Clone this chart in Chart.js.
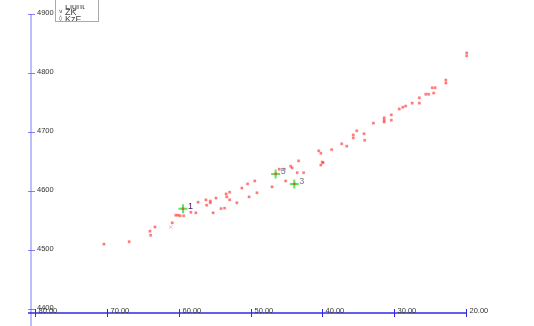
<!DOCTYPE html>
<html>
<head>
<meta charset="utf-8">
<script src="https://cdn.jsdelivr.net/npm/chart.js@4"></script>
<style>
  html, body { margin: 0; padding: 0; background: #fff; }
  #wrap { position: relative; width: 534px; height: 326px; }
</style>
</head>
<body>
<div id="wrap"><canvas id="myChart"></canvas></div>
<script>
// KzF (red squares)
var kzfX = [70.4, 66.9, 64.0, 63.9, 63.3, 60.9, 60.4, 60.1, 59.8, 59.3,
  58.3, 57.6, 57.3, 56.2, 56.1, 55.6, 55.6, 55.2, 54.8, 54.1,
  53.6, 53.4, 53.3, 52.9, 52.9, 51.9, 51.2, 50.4, 50.2, 49.4,
  49.1, 47.0, 46.0, 45.3, 45.1, 44.4, 44.2, 43.5, 43.3, 42.6,
  40.5, 40.2, 40.0, 39.9, 40.2, 38.7, 37.3, 36.6, 35.7, 35.7,
  35.2, 34.2, 34.1, 32.9, 31.4, 31.4, 31.4, 30.4, 30.4, 29.3,
  28.8, 28.4, 27.5, 26.5, 26.5, 25.6, 25.2, 24.7, 24.3, 24.5,
  22.8, 22.8, 19.9, 19.9, 59.4, 46.5, 43.9];
var kzfY = [4510, 4514, 4532, 4525, 4539, 4546, 4559, 4559, 4558, 4558,
  4564, 4563, 4581, 4585, 4576, 4583, 4580, 4563, 4588, 4570,
  4571, 4595, 4590, 4598, 4585, 4580, 4605, 4612, 4590, 4617,
  4597, 4607, 4637, 4637, 4617, 4642, 4639, 4631, 4651, 4631,
  4668, 4664, 4649, 4648, 4644, 4670, 4680, 4676, 4695, 4690,
  4702, 4697, 4686, 4715, 4724, 4720, 4717, 4729, 4720, 4739,
  4742, 4744, 4749, 4758, 4749, 4764, 4764, 4775, 4775, 4766,
  4788, 4783, 4834, 4829, 4570, 4629, 4612];

// ZK (green crosses, numbered)
var zkX = [59.4, 46.5, 43.9];
var zkY = [4570, 4629, 4612];
var zkLabels = ['1', '5', '3'];

// Light (faint x)
var lightX = [61.1];
var lightY = [4539];

var xTicks = [80, 70, 60, 50, 40, 30, 20];
var xTickLabels = ['80.00', '70.00', '60.00', '50.00', '40.00', '30.00', '20.00'];
var yTicks = [4400, 4500, 4600, 4700, 4800, 4900];
var yTickLabels = ['4400', '4500', '4600', '4700', '4800', '4900'];

var legendLabels = ['Light', 'ZK', 'KzF'];
var legendMarks = ['', 'v', '\u25CA'];

function toPoints(xs, ys) {
  return xs.map((x, i) => ({ x: x, y: ys[i] }));
}

var axesPlugin = {
  id: 'axesPlugin',
  afterDraw: function (chart) {
    var ctx = chart.ctx;
    var sx = chart.scales.x, sy = chart.scales.y;
    var area = chart.chartArea;
    var axisX = area.left - 4;
    var axisY = area.bottom + 4;
    ctx.save();

    // vertical axis
    ctx.strokeStyle = 'rgba(120,120,245,0.65)';
    ctx.lineWidth = 1.5;
    ctx.beginPath();
    ctx.moveTo(axisX, sy.getPixelForValue(yTicks[yTicks.length - 1]));
    ctx.lineTo(axisX, chart.height);
    ctx.stroke();

    ctx.font = '7.5px "Liberation Sans", Arial, sans-serif';
    ctx.fillStyle = '#333';
    ctx.textAlign = 'left';
    ctx.textBaseline = 'middle';
    ctx.lineWidth = 1;
    ctx.strokeStyle = 'rgba(100,100,240,0.8)';
    yTicks.forEach(function (v, i) {
      var py = Math.round(sy.getPixelForValue(v)) + 0.5;
      ctx.beginPath();
      ctx.moveTo(axisX - 3, py);
      ctx.lineTo(axisX + 4, py);
      ctx.stroke();
      ctx.fillText(yTickLabels[i], area.left + 2, py - 1.5);
    });

    // horizontal axis
    ctx.textBaseline = 'alphabetic';
    ctx.strokeStyle = '#2b2be6';
    ctx.lineWidth = 1.3;
    ctx.beginPath();
    ctx.moveTo(axisX - 3, axisY);
    ctx.lineTo(sx.getPixelForValue(xTicks[xTicks.length - 1]), axisY);
    ctx.stroke();
    ctx.lineWidth = 1;
    xTicks.forEach(function (v, i) {
      var px = Math.round(sx.getPixelForValue(v)) + 0.5;
      ctx.beginPath();
      ctx.moveTo(px, axisY - 4);
      ctx.lineTo(px, axisY + 4);
      ctx.stroke();
      ctx.fillText(xTickLabels[i], px + 3, axisY);
    });

    // labels next to the ZK markers
    var labelColors = ['#4a1060', '#6c7f9a', '#777'];
    ctx.font = '9px "Liberation Sans", Arial, sans-serif';
    ctx.textBaseline = 'middle';
    zkLabels.forEach(function (t, i) {
      ctx.fillStyle = labelColors[i];
      ctx.fillText(t, sx.getPixelForValue(zkX[i]) + 5, sy.getPixelForValue(zkY[i]) - 2);
    });

    // legend box
    ctx.fillStyle = '#fff';
    ctx.fillRect(55, 0, 44, 22);
    ctx.strokeStyle = '#aaa';
    ctx.lineWidth = 1;
    ctx.strokeRect(55.5, -1, 43, 22.5);
    ctx.save();
    ctx.beginPath();
    ctx.rect(56, 5, 42, 16);
    ctx.clip();
    ctx.textBaseline = 'alphabetic';
    ctx.fillStyle = '#444';
    var baseY = [8.5, 15, 21.5];
    legendLabels.forEach(function (t, i) {
      ctx.font = '9px "Liberation Sans", Arial, sans-serif';
      ctx.fillText(t, 65, baseY[i]);
      ctx.font = '6px "DejaVu Sans", sans-serif';
      ctx.fillText(legendMarks[i], 59, baseY[i] - 2);
    });
    ctx.restore();

    ctx.restore();
  }
};

var ctx = document.getElementById('myChart');
var myChart = new Chart(ctx, {
  type: 'scatter',
  data: {
    datasets: [{
      label: 'KzF',
      data: toPoints(kzfX, kzfY),
      pointStyle: 'rect',
      pointRadius: 1.6,
      backgroundColor: 'rgba(255,20,20,0.55)',
      borderColor: 'rgba(255,90,90,0.3)',
      borderWidth: 1,
      clip: false
    }, {
      label: 'ZK',
      data: toPoints(zkX, zkY),
      pointStyle: 'cross',
      pointRadius: 4.5,
      borderColor: 'rgba(70,230,70,0.9)',
      borderWidth: 2,
      clip: false
    }, {
      label: 'Light',
      data: toPoints(lightX, lightY),
      pointStyle: 'crossRot',
      pointRadius: 2.5,
      borderColor: 'rgba(255,80,80,0.4)',
      borderWidth: 1,
      clip: false
    }]
  },
  plugins: [axesPlugin],
  options: {
    animation: false,
    responsive: true,
    maintainAspectRatio: false,
    devicePixelRatio: 1,
    layout: {
      padding: { left: 35, right: 68, top: 14, bottom: 17 }
    },
    plugins: {
      legend: { display: false },
      tooltip: { enabled: false }
    },
    scales: {
      x: {
        type: 'linear',
        reverse: true,
        min: 20,
        max: 80,
        display: false
      },
      y: {
        type: 'linear',
        min: 4400,
        max: 4900,
        display: false
      }
    }
  }
});
</script>
</body>
</html>
